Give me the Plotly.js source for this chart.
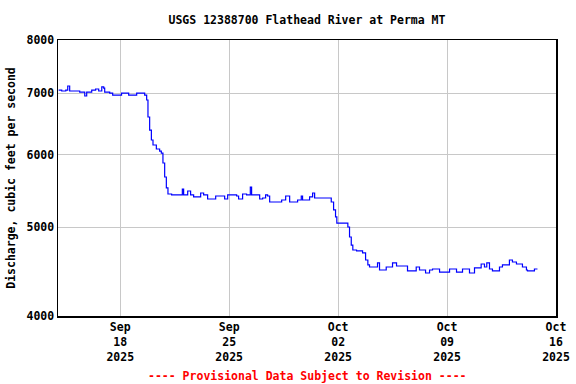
<!DOCTYPE html>
<html>
<head>
<meta charset="utf-8">
<script src="https://cdn.plot.ly/plotly-3.0.1.min.js"></script>
<style>html,body{margin:0;padding:0;background:#fff;}#chart{width:576px;height:384px;}</style>
</head>
<body>
<div id="chart"></div>
<script>
const times = [
"2025-09-14 01:00","2025-09-14 05:45","2025-09-14 12:00","2025-09-14 15:00","2025-09-14 18:00",
"2025-09-15 01:45","2025-09-15 09:30","2025-09-15 17:15","2025-09-15 20:15","2025-09-16 04:00",
"2025-09-16 10:00","2025-09-16 14:45","2025-09-16 19:30","2025-09-16 22:30","2025-09-17 00:00",
"2025-09-17 07:45","2025-09-17 12:20","2025-09-17 23:00","2025-09-18 02:00","2025-09-18 10:00",
"2025-09-18 13:00","2025-09-18 20:45","2025-09-19 01:20","2025-09-19 10:30","2025-09-19 13:40",
"2025-09-19 16:45","2025-09-19 18:45","2025-09-19 21:20","2025-09-20 00:00","2025-09-20 02:30",
"2025-09-20 07:40","2025-09-20 12:45","2025-09-20 15:20","2025-09-20 17:50","2025-09-20 20:30",
"2025-09-20 23:05","2025-09-21 01:35","2025-09-21 07:15","2025-09-21 16:30","2025-09-21 23:45",
"2025-09-22 01:45","2025-09-22 08:00","2025-09-22 12:30","2025-09-22 17:10","2025-09-22 23:20",
"2025-09-23 04:00","2025-09-23 08:35","2025-09-23 14:45","2025-09-23 22:30","2025-09-24 03:10",
"2025-09-24 12:20","2025-09-24 17:00","2025-09-24 21:40","2025-09-25 05:20","2025-09-25 11:30",
"2025-09-25 14:30","2025-09-25 20:40","2025-09-26 02:50","2025-09-26 08:35","2025-09-26 10:35",
"2025-09-26 18:20","2025-09-26 23:00","2025-09-27 03:35","2025-09-27 08:10","2025-09-27 11:15",
"2025-09-27 14:25","2025-09-28 02:40","2025-09-28 08:55","2025-09-28 15:05","2025-09-28 18:10",
"2025-09-28 21:15","2025-09-29 04:55","2025-09-29 09:30","2025-09-29 15:10","2025-09-29 17:10",
"2025-09-29 23:25","2025-09-30 04:00","2025-09-30 08:40","2025-09-30 11:45","2025-10-01 03:05",
"2025-10-01 10:50","2025-10-01 13:25","2025-10-01 17:00","2025-10-01 20:00","2025-10-01 22:00",
"2025-10-02 02:10","2025-10-02 13:00","2025-10-02 15:00","2025-10-02 17:35","2025-10-02 20:15",
"2025-10-02 22:40","2025-10-03 04:25","2025-10-03 12:05","2025-10-03 13:40","2025-10-03 18:20",
"2025-10-03 21:50","2025-10-04 00:25","2025-10-04 11:10","2025-10-04 12:45","2025-10-04 15:50",
"2025-10-04 23:35","2025-10-05 02:10","2025-10-05 11:55","2025-10-05 18:05","2025-10-06 09:30",
"2025-10-06 11:00","2025-10-06 18:45","2025-10-07 00:25","2025-10-07 05:30","2025-10-07 10:10",
"2025-10-07 14:50","2025-10-07 21:00","2025-10-08 01:35","2025-10-08 09:20","2025-10-08 12:25",
"2025-10-08 23:10","2025-10-09 03:50","2025-10-09 08:25","2025-10-09 14:35","2025-10-09 19:10",
"2025-10-09 23:50","2025-10-10 06:00","2025-10-10 10:35","2025-10-10 15:15","2025-10-10 18:20",
"2025-10-11 02:00","2025-10-11 04:35","2025-10-11 09:40","2025-10-11 13:15","2025-10-11 17:25",
"2025-10-11 22:00","2025-10-12 04:10","2025-10-12 08:50","2025-10-12 13:25","2025-10-12 19:35",
"2025-10-13 00:10","2025-10-13 04:50","2025-10-13 11:00","2025-10-13 15:35","2025-10-13 20:15",
"2025-10-14 02:25","2025-10-14 04:00","2025-10-14 11:40","2025-10-14 14:45","2025-10-14 19:25"
];
const discharge = [
7055,7038,7055,7127,7038,
7038,7020,6950,7020,7055,
7074,7038,7110,7091,7020,
7002,6967,6967,7002,7002,
6967,6967,7002,7002,6967,
6881,6593,6381,6223,6146,
6084,6053,6023,5874,5671,
5517,5434,5421,5421,5503,
5421,5475,5421,5394,5394,
5448,5421,5366,5366,5407,
5407,5366,5421,5421,5407,
5366,5434,5421,5530,5421,
5421,5366,5380,5421,5407,
5326,5326,5353,5407,5407,
5326,5326,5353,5407,5353,
5353,5394,5448,5380,5380,
5380,5326,5222,5130,5052,
5052,5052,5002,4878,4780,
4721,4710,4710,4686,4604,
4547,4524,4524,4570,4490,
4490,4524,4570,4535,4535,
4479,4479,4524,4490,4490,
4456,4490,4501,4501,4467,
4467,4501,4501,4467,4467,
4501,4501,4456,4456,4513,
4513,4558,4524,4570,4501,
4479,4479,4524,4547,4547,
4604,4581,4558,4558,4524,
4490,4479,4479,4501,4501
];
const xTickVals = ["2025-09-18","2025-09-25","2025-10-02","2025-10-09","2025-10-16"];
const xTickText = ["Sep<br>18<br>2025","Sep<br>25<br>2025","Oct<br>02<br>2025","Oct<br>09<br>2025","Oct<br>16<br>2025"];
const yTickVals = [4000,5000,6000,7000,8000];
const yTickText = ["4000","5000","6000","7000","8000"];
const xRange = ["2025-09-14 00:00","2025-10-16 00:00"];
const yRange = [4000, 8000];

const FONT = "DejaVu Sans Mono, monospace";
const tickFont = {family: FONT, size: 11.5, color: "#000", weight: "bold"};

Plotly.newPlot("chart", [{
  x: times, y: discharge, type: "scatter", mode: "lines",
  line: {color: "#0000ff", width: 1.2, shape: "hv"},
  hoverinfo: "skip"
}], {
  width: 576, height: 384,
  margin: {l: 58, r: 20, t: 40, b: 68},
  paper_bgcolor: "#fff", plot_bgcolor: "#fff",
  showlegend: false,
  title: {text: "USGS 12388700 Flathead River at Perma MT", font: {family: FONT, size: 11.5, color: "#000", weight: "bold"},
          xref: "paper", x: 0.5, xanchor: "center", yref: "container", y: 1 - 20/384, yanchor: "middle"},
  xaxis: {type: "date", range: xRange, tickmode: "array", tickvals: xTickVals, ticktext: xTickText,
          showgrid: true, gridcolor: "#c8c8c8", gridwidth: 1, zeroline: false,
          showline: true, mirror: true, linecolor: "#000", linewidth: 1.5, ticks: "", tickfont: tickFont},
  yaxis: {type: "log", range: [Math.log10(yRange[0]), Math.log10(yRange[1])], tickmode: "array", tickvals: yTickVals, ticktext: yTickText,
          showgrid: true, gridcolor: "#c8c8c8", gridwidth: 1, zeroline: false,
          showline: true, mirror: true, linecolor: "#000", linewidth: 1.5, ticks: "", tickfont: tickFont,
          title: {text: "Discharge, cubic feet per second", font: {family: FONT, size: 11.5, color: "#000", weight: "bold"}, standoff: 8}},
  annotations: [{text: "---- Provisional Data Subject to Revision ----", xref: "paper", yref: "paper", x: 0.5, y: -60/276,
                 xanchor: "center", yanchor: "middle", showarrow: false,
                 font: {family: FONT, size: 11.5, color: "#ff0000", weight: "bold"}}]
}, {staticPlot: true, displayModeBar: false});
</script>
</body>
</html>
